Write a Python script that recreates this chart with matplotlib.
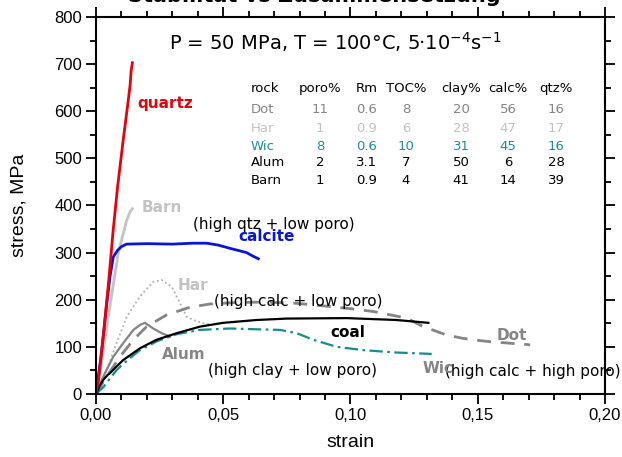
import matplotlib
matplotlib.use("Agg")
import matplotlib.pyplot as plt
from matplotlib.ticker import MultipleLocator, FuncFormatter

# ---------------- data ----------------
quartz_strain = [0, 0.001, 0.003, 0.005, 0.0068, 0.0085, 0.0107, 0.0125, 0.0134, 0.0138, 0.0143]
quartz_stress = [0, 30, 130, 240, 350, 440, 539, 615, 655, 685, 703]

barn_strain = [0, 0.002, 0.005, 0.0088, 0.0121, 0.0135, 0.0143]
barn_stress = [0, 60, 170, 300, 369, 388, 393]

calcite_strain = [0, 0.002, 0.004, 0.0055, 0.0068, 0.0085, 0.0101, 0.012, 0.02, 0.03, 0.038,
                  0.0435, 0.048, 0.0527, 0.0592, 0.0615, 0.0638]
calcite_stress = [0, 80, 180, 249, 291, 305, 313, 318, 319, 318, 320,
                  320, 316, 309, 300, 293, 287]

har_strain = [0, 0.002, 0.0042, 0.0081, 0.0121, 0.0173, 0.0225, 0.0258, 0.0297, 0.033,
              0.0356, 0.0382, 0.0422, 0.045]
har_stress = [0, 22, 51, 108, 164, 207, 238, 242, 228, 193, 164, 157, 150, 148]

alum_strain = [0, 0.0015, 0.0035, 0.0068, 0.0107, 0.0147, 0.0175, 0.01925, 0.0225, 0.0258, 0.0291]
alum_stress = [0, 20, 44, 79, 108, 136, 147, 151, 139, 129, 122]

dot_strain = [0, 0.0042, 0.0094, 0.0147, 0.0199, 0.0278, 0.0369, 0.0448, 0.055, 0.065, 0.0775,
              0.0893, 0.1, 0.109, 0.122, 0.1286, 0.1378, 0.1443, 0.148, 0.1548, 0.1692, 0.1706]
dot_stress = [0, 37, 79, 115, 143, 168, 184, 191, 194, 195, 193,
              187, 181, 175, 161, 143, 125, 118, 115, 111, 105, 104]

coal_strain = [0, 0.0015, 0.0029, 0.0045, 0.0055, 0.008, 0.0107, 0.0173, 0.0238, 0.0317,
               0.0409, 0.05, 0.0631, 0.0749, 0.0985, 0.118, 0.1306]
coal_stress = [0, 18, 30, 40, 44, 58, 72, 97, 115, 129, 143, 151, 157, 160, 161, 157, 151]

wic_strain = [0, 0.003, 0.0055, 0.008, 0.0107, 0.017, 0.024, 0.0317, 0.0409, 0.0527, 0.065,
              0.0723, 0.0789, 0.0854, 0.0946, 0.105, 0.118, 0.1319]
wic_stress = [0, 15, 33, 50, 64, 92, 112, 127, 136, 139, 137, 136, 129, 115, 100, 93, 88, 85]

table_header = ["rock", "poro%", "Rm", "TOC%", "clay%", "calc%", "qtz%"]
table_rows = [
    ["Dot", "11", "0.6", "8", "20", "56", "16"],
    ["Har", "1", "0.9", "6", "28", "47", "17"],
    ["Wic", "8", "0.6", "10", "31", "45", "16"],
    ["Alum", "2", "3.1", "7", "50", "6", "28"],
    ["Barn", "1", "0.9", "4", "41", "14", "39"],
]
y_ticks = [0, 100, 200, 300, 400, 500, 600, 700, 800]
x_ticks = [0.0, 0.05, 0.10, 0.15, 0.20]

# ---------------- styles ----------------
RED = "#e8000b"
BLUE = "#0a14d8"
LGRAY = "#c3c3c3"
MGRAY = "#858585"
TEAL = "#138e8e"
TEAL_TXT = "#1a9090"
AX_FONT = ["Liberation Sans", "DejaVu Sans"]

fig = plt.figure(figsize=(6.22, 4.57), dpi=100)
ax = fig.add_axes([0.1543, 0.1379, 0.8184, 0.8249])

ax.plot(barn_strain, barn_stress, color=LGRAY, lw=2.0)
ax.plot(har_strain, har_stress, color="#b0b0b0", lw=1.3, ls=(0, (1, 1.5)))
ax.plot(dot_strain, dot_stress, color=MGRAY, lw=2.0, ls=(0, (5, 3.5)))
ax.plot(alum_strain, alum_stress, color=MGRAY, lw=1.6)
ax.plot(wic_strain, wic_stress, color=TEAL, lw=1.6, ls=(0, (6, 2, 1.2, 2)))
ax.plot(coal_strain, coal_stress, color="black", lw=1.6)
ax.plot(calcite_strain, calcite_stress, color=BLUE, lw=2.0)
ax.plot(quartz_strain, quartz_stress, color=RED, lw=2.0)

ax.set_xlim(0, 0.20)
ax.set_ylim(0, 800)
ax.set_xticks(x_ticks)
ax.set_yticks(y_ticks)
ax.xaxis.set_minor_locator(MultipleLocator(0.01))
ax.yaxis.set_minor_locator(MultipleLocator(50))
ax.xaxis.set_major_formatter(FuncFormatter(lambda v, p: f"{v:.2f}".replace(".", ",")))
ax.tick_params(which="both", direction="out", top=True, right=True, width=1.3,
               labelsize=12, pad=3)
ax.tick_params(which="major", length=7)
ax.tick_params(which="minor", length=4)
for lbl in ax.get_xticklabels() + ax.get_yticklabels():
    lbl.set_family(AX_FONT)
for sp in ax.spines.values():
    sp.set_linewidth(1.5)
    sp.set_zorder(5)

ax.set_xlabel("strain", fontsize=14, labelpad=8, family=AX_FONT)
ax.set_ylabel("stress, MPa", fontsize=14, labelpad=19, family=AX_FONT)

# title cut off at top
fig.text(0.506, 0.996, "Stabilität vs Zusammensetzung", ha="center", va="baseline",
         fontsize=15, fontweight="bold")

ax.text(0.094, 747, r"P = 50 MPa, T = 100°C, 5·10$^{-4}$s$^{-1}$", ha="center",
        va="center", fontsize=14)

# annotations
ann_kw = dict(fontsize=11, va="center", ha="left")
ax.text(0.0161, 616, "quartz", color=RED, fontweight="bold", **ann_kw)
ax.text(0.0181, 395, "Barn", color=LGRAY, fontweight="bold", **ann_kw)
ax.text(0.0381, 359, "(high qtz + low poro)", color="black", **ann_kw)
ax.text(0.0558, 335, "calcite", color=BLUE, fontweight="bold", **ann_kw)
ax.text(0.0322, 231, "Har", color=LGRAY, fontweight="bold", **ann_kw)
ax.text(0.0464, 197, "(high calc + low poro)", color="black", **ann_kw)
ax.text(0.092, 130, "coal", color="black", fontweight="bold", **ann_kw)
ax.text(0.1576, 125, "Dot", color=MGRAY, fontweight="bold", **ann_kw)
ax.text(0.026, 83, "Alum", color=MGRAY, fontweight="bold", **ann_kw)
ax.text(0.044, 49, "(high clay + low poro)", color="black", **ann_kw)
ax.text(0.1285, 55, "Wic", color=MGRAY, fontweight="bold", **ann_kw)
ax.text(0.137, 47, "(high calc + high poro)", color="black", zorder=2, **ann_kw)

# table
col_x_px = [250.7, 320, 367, 406, 461, 508, 556]
header_y_px = 88
row_y_px = [109, 128, 146, 162, 180]
row_colors = [MGRAY, LGRAY, TEAL_TXT, "black", "black"]

def to_data_x(px):
    return (px - 96) / 2545.0

def to_data_y(py):
    return (394 - py) / 0.4713

for j, h in enumerate(table_header):
    ax.text(to_data_x(col_x_px[j]), to_data_y(header_y_px), h, fontsize=9.5,
            ha="left" if j == 0 else "center", va="center", color="black")
for i, row in enumerate(table_rows):
    for j, v in enumerate(row):
        ax.text(to_data_x(col_x_px[j]), to_data_y(row_y_px[i]), v, fontsize=9.5,
                ha="left" if j == 0 else "center", va="center", color=row_colors[i])

fig.savefig("out.png", dpi=100)
